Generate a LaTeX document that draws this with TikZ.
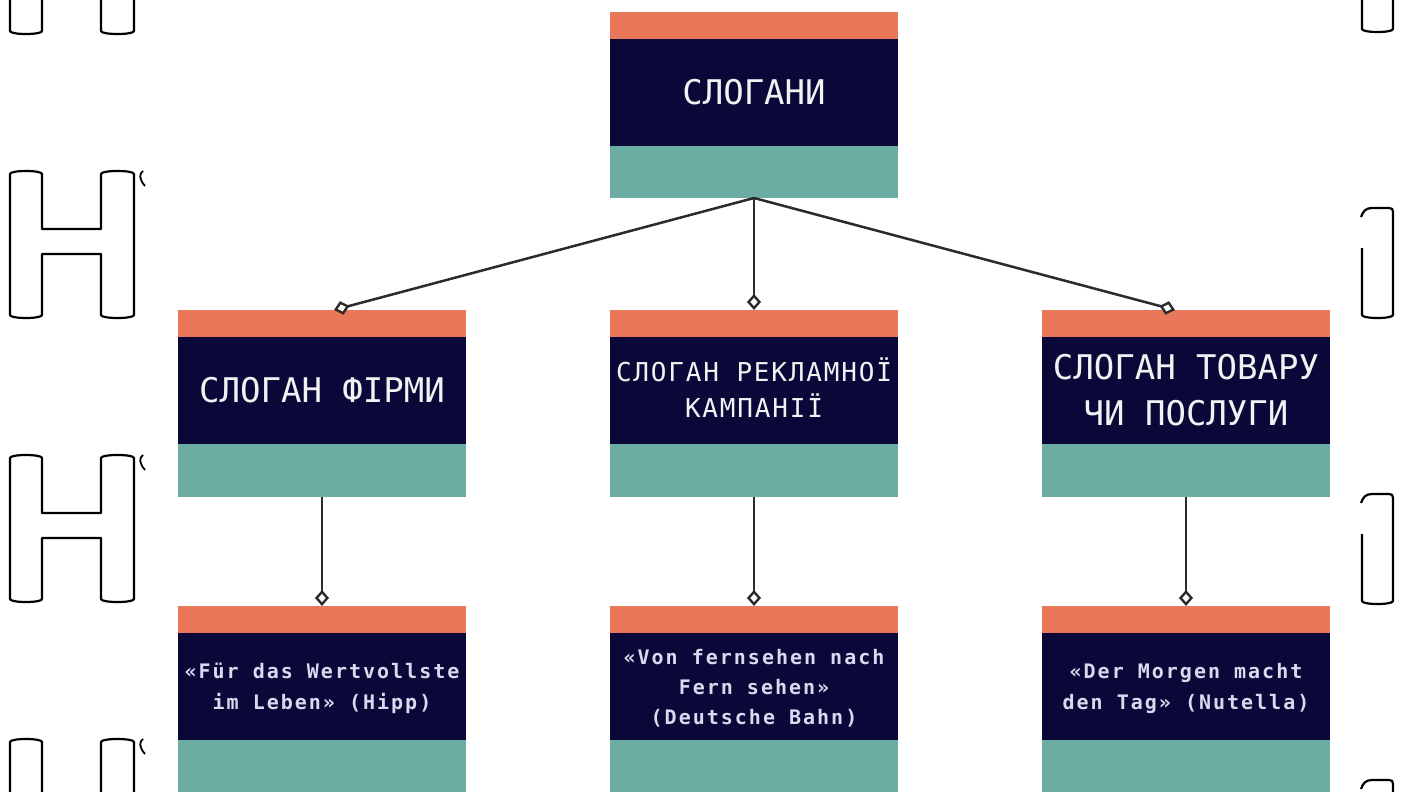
\documentclass[tikz,border=0pt]{standalone}
\usepackage{fontspec}
\usetikzlibrary{arrows.meta}
\newfontfamily\hfont{DejaVu Sans Mono}
\newfontfamily\hfontsp[LetterSpace=7]{DejaVu Sans Mono}
\newfontfamily\qfont[LetterSpace=10]{DejaVu Sans Mono Bold}
\definecolor{bandorange}{HTML}{E9785B}
\definecolor{bandnavy}{HTML}{0A0838}
\definecolor{bandteal}{HTML}{6BADA2}
\definecolor{conncol}{HTML}{2E2A2A}
\definecolor{headtext}{HTML}{F2F2F2}
\definecolor{quotetext}{HTML}{DCD8F0}
\tikzset{
  card/.style={minimum width=288pt, minimum height=#1, inner sep=0pt, outer sep=0pt,
    anchor=north, fill=bandteal,
    path picture={
      \fill[bandorange] (path picture bounding box.north west) rectangle ([yshift=-27pt]path picture bounding box.north east);
      \fill[bandnavy] ([yshift=-27pt]path picture bounding box.north west) rectangle ([yshift=-134pt]path picture bounding box.north east);
    }},
  headlbl/.style={text=headtext, align=center, inner sep=0pt, font=\hfont\fontsize{34}{46}\selectfont},
  quotelbl/.style={text=quotetext, align=center, inner sep=0pt, font=\qfont\fontsize{20}{31}\selectfont},
  conn/.style={draw=conncol, line width=2.5pt, -{Diamond[length=16pt,width=14pt,fill=white,line width=2.4pt]}},
  deco/.style={draw=black, line width=2.2pt, line join=round}
}
\begin{document}
\begin{tikzpicture}[x=1pt,y=-1pt]
\useasboundingbox (0,0) rectangle (1403,792);
\fill[white] (0,0) rectangle (1403,792);

% decorations left
\foreach \dy in {-284,0,284,568}{
  \begin{scope}[shift={(0,\dy)}]
  \draw[deco] (10,174) -- (10,315) .. controls (10,319) and (42,319) .. (42,315) -- (42,254) -- (101,254) -- (101,315) .. controls (101,319) and (134,319) .. (134,315) -- (134,174) .. controls (134,170) and (101,170) .. (101,174) -- (101,229) -- (42,229) -- (42,174) .. controls (42,170) and (10,170) .. (10,174) -- cycle;
  \draw[deco, line width=1.8pt] (143,171) .. controls (139,174) and (139,179) .. (145,186);
  \end{scope}
}
% decorations right
\foreach \dy in {-286,0,286,572}{
  \begin{scope}[shift={(0,\dy)}]
  \draw[deco] (1361,217) .. controls (1363,211) and (1366,208) .. (1372,208) -- (1389,208) .. controls (1392,208) and (1393,209) .. (1393,212) -- (1393,315) .. controls (1393,319) and (1362,319) .. (1362,315) -- (1362,248);
  \end{scope}
}

% cards
\node[card=186pt] (b0) at (754,12) {};
\node[card=187pt] (m1) at (322,310) {};
\node[card=187pt] (m2) at (754,310) {};
\node[card=187pt] (m3) at (1186,310) {};
\node[card=186pt] (q1) at (322,606) {};
\node[card=186pt] (q2) at (754,606) {};
\node[card=186pt] (q3) at (1186,606) {};

% texts
\node[headlbl] (t0) at ([yshift=-80pt]b0.north) {СЛОГАНИ};
\node[headlbl] (t1) at ([yshift=-80pt]m1.north) {СЛОГАН ФІРМИ};
\node[headlbl, font=\hfontsp\fontsize{26}{36}\selectfont] (t2) at ([yshift=-78pt]m2.north) {СЛОГАН РЕКЛАМНОЇ\\КАМПАНІЇ};
\node[headlbl] (t3) at ([yshift=-80pt]m3.north) {СЛОГАН ТОВАРУ\\ЧИ ПОСЛУГИ};
\node[quotelbl] (u1) at ([yshift=-82pt]q1.north) {«Für das Wertvollste\\im Leben» (Hipp)};
\node[quotelbl, font=\qfont\fontsize{20}{30}\selectfont] (u2) at ([yshift=-82pt]q2.north) {«Von fernsehen nach\\Fern sehen»\\(Deutsche Bahn)};
\node[quotelbl] (u3) at ([yshift=-82pt]q3.north) {«Der Morgen macht\\den Tag» (Nutella)};

% connectors
\draw[conn] (b0.south) -- ([xshift=12pt]m1.north);
\draw[conn] (b0.south) -- (m2.north);
\draw[conn] (b0.south) -- ([xshift=-11pt]m3.north);
\draw[conn] (m1.south) -- (q1.north);
\draw[conn] (m2.south) -- (q2.north);
\draw[conn] (m3.south) -- (q3.north);
\end{tikzpicture}
\end{document}
